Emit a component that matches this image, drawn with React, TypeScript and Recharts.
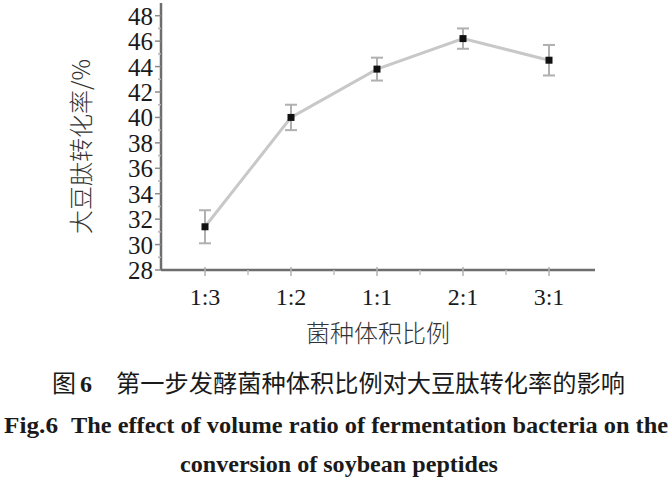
import React from 'react';
import { LineChart, Line, XAxis, YAxis, ErrorBar } from 'recharts';

const categories = ['1:3', '1:2', '1:1', '2:1', '3:1'];
const conversion = [31.4, 40.0, 43.8, 46.2, 44.5];
const errors = [1.3, 1.0, 0.9, 0.8, 1.2];
const yTicks = [28, 29, 30, 31, 32, 33, 34, 35, 36, 37, 38, 39, 40, 41, 42, 43, 44, 45, 46, 47, 48];

const data = categories.map((c, i) => ({ name: c, value: conversion[i], err: errors[i] }));

const SERIF = '"Liberation Serif", "DejaVu Serif", serif';
const CJK = '"Noto Sans CJK SC", "Noto Sans", sans-serif';
const AXIS_COLOR = '#6e6e6e';

const YTick = (props: any) => {
  const { x, y, payload } = props;
  const major = payload.value % 2 === 0;
  return (
    <g>
      <line x1={x - (major ? 6 : 3)} x2={x} y1={y} y2={y} stroke={major ? '#8a8a8a' : '#b5b5b5'} strokeWidth={1.5} />
      {major && (
        <text x={x - 8} y={y} dy="0.36em" textAnchor="end" fontFamily={SERIF} fontSize={25} fill="#1a1a1a">
          {payload.value}
        </text>
      )}
    </g>
  );
};

const XTick = (props: any) => {
  const { x, y, payload, index } = props;
  return (
    <g>
      <line x1={x} x2={x} y1={y - 3} y2={y + 6} stroke="#b0b0b0" strokeWidth={1.5} />
      {index < categories.length - 1 && (
        <line x1={x + 43} x2={x + 43} y1={y} y2={y + 5} stroke="#c0c0c0" strokeWidth={1.5} />
      )}
      <text x={x} y={y + 35} textAnchor="middle" fontFamily={SERIF} fontSize={24} fill="#1a1a1a">
        {payload.value}
      </text>
    </g>
  );
};

const YLabel = (props: any) => {
  const { viewBox } = props;
  const cx = 79;
  const cy = viewBox.y + viewBox.height / 2 + 10;
  return (
    <text
      x={cx}
      y={cy}
      transform={`rotate(-90, ${cx}, ${cy})`}
      textAnchor="middle"
      dominantBaseline="central"
      fontFamily={CJK}
      fontWeight={300}
      fontSize={24}
      fill="#333"
    >
      大豆肽转化率/%
    </text>
  );
};

const SquareDot = (props: any) => {
  const { cx, cy, index } = props;
  return <rect key={`d${index}`} x={cx - 3.5} y={cy - 3.5} width={7} height={7} fill="#111" />;
};

export default function App() {
  return (
    <div style={{ position: 'absolute', left: 0, top: 0, width: 672, height: 480, background: '#fff' }}>
      <LineChart
        width={672}
        height={360}
        data={data}
        margin={{ top: 3, right: 77, bottom: 0, left: 0 }}
      >
        <XAxis
          dataKey="name"
          type="category"
          padding={{ left: 44, right: 46 }}
          height={90}
          tickSize={0}
          tickMargin={0}
          tickLine={false}
          tick={<XTick />}
          interval={0}
          axisLine={{ stroke: AXIS_COLOR, strokeWidth: 2.5 }}
          label={{ value: '菌种体积比例', position: 'insideBottom', offset: 18, fontFamily: CJK, fontWeight: 300, fontSize: 24, fill: '#333' }}
        />
        <YAxis
          type="number"
          domain={[28, 49]}
          ticks={yTicks}
          interval={0}
          width={161}
          tickSize={0}
          tickMargin={0}
          tickLine={false}
          tick={<YTick />}
          axisLine={{ stroke: AXIS_COLOR, strokeWidth: 2.5 }}
          label={<YLabel />}
        />
        <Line
          type="linear"
          dataKey="value"
          stroke="#c8c8c8"
          strokeWidth={3}
          dot={SquareDot}
          activeDot={false}
          isAnimationActive={false}
        >
          <ErrorBar dataKey="err" direction="y" width={6} stroke="#b0b0b0" strokeWidth={2} />
        </Line>
      </LineChart>
      <svg width={672} height={120} style={{ position: 'absolute', left: 0, top: 360 }}>
        <text x={52} y={32} fontFamily={CJK} fontSize={24} fill="#1a1a1a">图</text>
        <text x={80} y={32} fontFamily={SERIF} fontWeight="bold" fontSize={24} fill="#1a1a1a">6</text>
        <text x={116} y={32} textLength={509} lengthAdjust="spacingAndGlyphs" fontFamily={CJK} fontSize={24} fill="#1a1a1a">
          第一步发酵菌种体积比例对大豆肽转化率的影响
        </text>
        <text x={4} y={73} textLength={54} lengthAdjust="spacingAndGlyphs" fontFamily={SERIF} fontWeight="bold" fontSize={24} fill="#1a1a1a">
          Fig.6
        </text>
        <text x={71} y={73} textLength={597} lengthAdjust="spacingAndGlyphs" fontFamily={SERIF} fontWeight="bold" fontSize={24} fill="#1a1a1a">
          The effect of volume ratio of fermentation bacteria on the
        </text>
        <text x={180} y={112} textLength={318} lengthAdjust="spacingAndGlyphs" fontFamily={SERIF} fontWeight="bold" fontSize={24} fill="#1a1a1a">
          conversion of soybean peptides
        </text>
      </svg>
    </div>
  );
}
